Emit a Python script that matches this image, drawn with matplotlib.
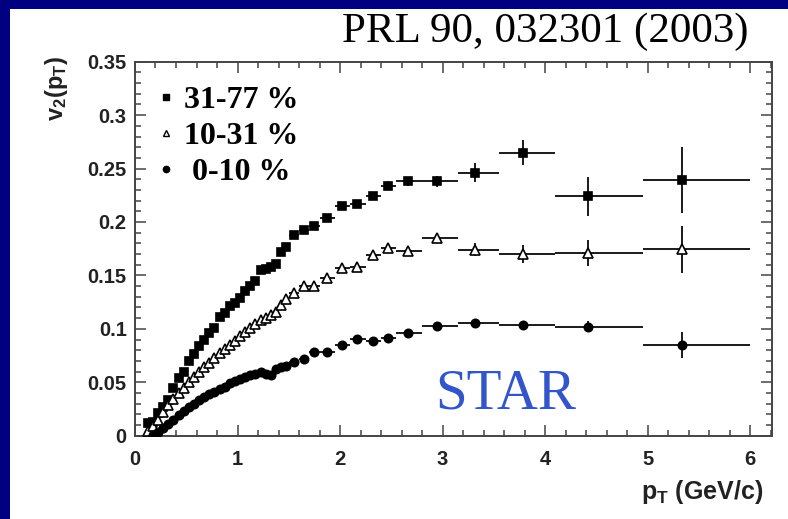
import matplotlib
matplotlib.use('Agg')
import matplotlib.pyplot as plt
from matplotlib.patches import Rectangle
from matplotlib.lines import Line2D
from matplotlib.ticker import MultipleLocator, FormatStrFormatter

plt.rcParams['mathtext.fontset'] = 'custom'
plt.rcParams['mathtext.bf'] = 'Liberation Sans:bold'
plt.rcParams['mathtext.rm'] = 'Liberation Sans:bold'

# pT bins (GeV/c): 0.05 wide up to 1.5, then wider bins
bin_lo = [0.10, 0.15, 0.20, 0.25, 0.30, 0.35, 0.40, 0.45, 0.50, 0.55, 0.60, 0.65, 0.70, 0.75,
          0.80, 0.85, 0.90, 0.95, 1.00, 1.05, 1.10, 1.15, 1.20, 1.25, 1.30, 1.35, 1.40, 1.45,
          1.50, 1.60, 1.70, 1.80, 1.95, 2.10, 2.25, 2.40, 2.55, 2.80, 3.15, 3.55, 4.10, 4.95]
bin_hi = [0.15, 0.20, 0.25, 0.30, 0.35, 0.40, 0.45, 0.50, 0.55, 0.60, 0.65, 0.70, 0.75, 0.80,
          0.85, 0.90, 0.95, 1.00, 1.05, 1.10, 1.15, 1.20, 1.25, 1.30, 1.35, 1.40, 1.45, 1.50,
          1.60, 1.70, 1.80, 1.95, 2.10, 2.25, 2.40, 2.55, 2.80, 3.15, 3.55, 4.10, 4.95, 6.00]
pt_mean = [0.125, 0.175, 0.225, 0.275, 0.325, 0.375, 0.425, 0.475, 0.525, 0.575, 0.625, 0.675,
           0.725, 0.775, 0.825, 0.875, 0.925, 0.975, 1.025, 1.075, 1.125, 1.175, 1.225, 1.275,
           1.325, 1.375, 1.425, 1.475,
           1.55, 1.65, 1.75, 1.87, 2.02, 2.17, 2.32, 2.47, 2.66, 2.95, 3.32, 3.78, 4.42, 5.34]

# v2 for the three centrality classes
v2_peripheral = [0.012, 0.013, 0.021, 0.027, 0.033, 0.045, 0.054, 0.060, 0.070, 0.076, 0.084, 0.090,
                 0.096, 0.101, 0.111, 0.115, 0.121, 0.124, 0.129, 0.135, 0.140, 0.145, 0.155, 0.156,
                 0.158, 0.161, 0.172, 0.177,
                 0.188, 0.1925, 0.196, 0.204, 0.215, 0.2165, 0.224, 0.234, 0.238, 0.238, 0.246,
                 0.265, 0.224, 0.239]
v2_midcentral = [0.004, 0.009, 0.015, 0.022, 0.029, 0.034, 0.040, 0.045, 0.050, 0.055, 0.060, 0.064,
                 0.068, 0.073, 0.077, 0.081, 0.085, 0.089, 0.093, 0.097, 0.101, 0.105, 0.108, 0.110,
                 0.113, 0.116, 0.122, 0.128,
                 0.134, 0.1404, 0.140, 0.148, 0.1567, 0.158, 0.169, 0.176, 0.173, 0.185, 0.174,
                 0.170, 0.1707, 0.1747]
# most central class starts one bin later
v2_central = [0.001, 0.003, 0.007, 0.011, 0.015, 0.019, 0.023, 0.027, 0.030, 0.033, 0.036,
              0.039, 0.041, 0.044, 0.046, 0.049, 0.051, 0.053, 0.055, 0.057, 0.058, 0.060, 0.058,
              0.057, 0.062, 0.064, 0.065,
              0.069, 0.0715, 0.078, 0.078, 0.0852, 0.0905, 0.0886, 0.0915, 0.0964, 0.1027, 0.1052,
              0.1036, 0.102, 0.0849]

# statistical errors of the wide bins (narrow bins have errors smaller than the markers)
err_peripheral = [0.002, 0.002, 0.002, 0.002, 0.003, 0.003, 0.003, 0.004, 0.004, 0.005, 0.009, 0.012, 0.018, 0.031]
err_midcentral = [0.002, 0.002, 0.002, 0.002, 0.002, 0.003, 0.003, 0.003, 0.003, 0.004, 0.006, 0.008, 0.012, 0.022]
err_central = [0.001, 0.001, 0.001, 0.001, 0.001, 0.002, 0.002, 0.002, 0.002, 0.002, 0.003, 0.003, 0.005, 0.0125]
n_narrow = 28

labels = ['31-77 %', '10-31 %', ' 0-10 %']

fig = plt.figure(figsize=(7.88, 5.19), dpi=100, facecolor='#000080')
fig.patches.append(Rectangle((10 / 788, 0), 1, 1 - 9 / 519, transform=fig.transFigure,
                             facecolor='white', edgecolor='none', zorder=-1))
ax = fig.add_axes([0.1713, 0.1605, 0.808, 0.7206])


def draw(v2, err, first, fmt, mfc, ms):
    x = pt_mean[first:]
    xl = [p - lo for p, lo in zip(x, bin_lo[first:])]
    xh = [hi - p for p, hi in zip(x, bin_hi[first:])]
    yerr = [0.0] * (n_narrow - first) + err
    ax.errorbar(x, v2, xerr=[xl, xh], yerr=yerr, fmt=fmt, color='black', mfc=mfc, mec='black',
                ms=ms, mew=1.2, elinewidth=1.4, ecolor='#1a1a1a', capsize=0, zorder=3)


draw(v2_peripheral, err_peripheral, 0, 's', 'black', 6)
draw(v2_midcentral, err_midcentral, 0, '^', 'white', 6.5)
draw(v2_central, err_central, 1, 'o', 'black', 6)

ax.set_xlim(0, 6.21)
ax.set_ylim(0, 0.35)
ax.xaxis.set_major_locator(MultipleLocator(1))
ax.xaxis.set_minor_locator(MultipleLocator(0.2))
ax.yaxis.set_major_locator(MultipleLocator(0.05))
ax.yaxis.set_minor_locator(MultipleLocator(0.01))
ax.yaxis.set_major_formatter(FormatStrFormatter('%g'))

for s in ax.spines.values():
    s.set_color('#444444')
    s.set_linewidth(1.4)
ax.tick_params(which='both', direction='in', top=True, right=True, color='#444444', width=1.1)
ax.tick_params(which='major', length=8)
ax.tick_params(which='minor', length=4)
ax.tick_params(axis='x', which='major', pad=10)
ax.tick_params(axis='y', which='major', pad=6)
for lab in ax.get_xticklabels() + ax.get_yticklabels():
    lab.set_fontfamily('Liberation Sans')
    lab.set_fontweight('bold')
    lab.set_fontsize(14.5)
    lab.set_color('#222222')

ax.set_ylabel(r'$\mathbf{v_2(p_T)}$', fontsize=17, color='#222222', loc='top')
ax.yaxis.set_label_coords(-0.102, 1.015)
ax.set_xlabel(r'$\mathbf{p_T}$' + ' (GeV/c)', fontsize=18, color='#222222', loc='right',
              fontfamily='Liberation Sans', fontweight='bold')
ax.xaxis.set_label_coords(0.987, -0.112)

handles = [Line2D([], [], ls='none', marker='s', color='black', ms=4.5),
           Line2D([], [], ls='none', marker='^', color='black', mfc='white', ms=5),
           Line2D([], [], ls='none', marker='o', color='black', ms=4.5)]
ax.legend(handles, labels, loc='upper left', bbox_to_anchor=(0.035, 0.935), frameon=False,
          prop=dict(family='Liberation Serif', weight='bold', size=23),
          handlelength=0.55, handletextpad=0.3, labelspacing=0.2, borderaxespad=0, borderpad=0)

ax.text(0.471, 0.0733, 'STAR', transform=ax.transAxes, fontsize=41, color='#3355cc',
        fontfamily='Liberation Serif', va='baseline', ha='left')
fig.text(748 / 788, 1 - 41.7 / 519, 'PRL 90, 032301 (2003)', fontsize=31,
         fontfamily='Liberation Serif', ha='right', va='baseline')

fig.savefig('out.png', dpi=100, facecolor=fig.get_facecolor())
